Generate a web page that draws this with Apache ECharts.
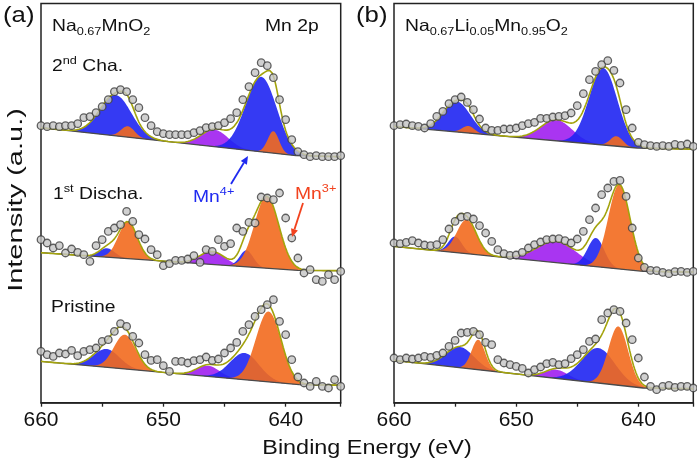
<!DOCTYPE html>
<html><head><meta charset="utf-8">
<script src="https://cdn.jsdelivr.net/npm/echarts@6/dist/echarts.min.js"></script>
<style>html,body{margin:0;padding:0;background:#fff}#c{width:697px;height:466px}</style>
</head><body><div id="c"></div>
<script>
// ---------- data ----------
const xMin = 635.5, xMax = 660;
const xTicksLabelled = [660, 650, 640];
// measured energies of the data points (eV)
const energies = [660,659.5,659,658.5,658,657.5,657,656.5,656,655.5,655,654.5,654,653.5,653,652.5,652,651.5,651,650.5,650,649.5,649,648.5,648,647.5,647,646.5,646,645.5,645,644.5,644,643.5,643,642.5,642,641.5,641,640.5,640,639.5,639,638.5,638,637.5,637,636.5,636,635.5];

// panel (a) Na0.67MnO2 – intensities (offset stacked, a.u.)
const a_cha_pts = [277,276,277,276,277,277,279,285,286,290,296,303,311,313,311,303,295,285,277,271,269,268,268,268,268,270,272,275,276,277,280,284,290,303,316,330,340,337,325,303,283,263,251,248,246,247,246,246,246,247];
const a_dis_pts = [163,159.7,154.7,157,149.7,153.7,150.3,148,141.3,157,163,171.3,174.7,178,191.3,181.3,168,163.7,153,148,137,139,142.3,142.3,143.7,147,140.3,153,151.3,163,156.3,159,174.7,171.3,180.3,179.7,205.7,204.7,203,209.7,184.7,164.7,144.7,129.7,133,123,121.3,128,123,131.3];
const a_pri_pts = [51.3,48,46.3,49.7,48.7,52.3,47,51.3,53,54.7,61.3,63,71.3,79,76.3,66.3,59.7,48,42.3,43,37,31.3,41.3,41.3,39.7,42,43,45.7,42.3,43.7,49.7,54.7,60.3,71.3,78,86.3,93,98,103,81.3,68,43,25.7,19.7,16.3,21.3,16.3,14.7,23,16.3];
// panel (b) Na0.67Li0.05Mn0.95O2
const b_cha_pts = [277,278,278.7,277,276.3,274.7,279,286.3,291.3,299,303,305.7,300.3,293,283.7,274.7,272.3,272.3,273.7,273.7,274.7,277,279,280.3,284.3,284.3,285.7,286.3,287,289.7,297,309,323,331.3,338,342,332.3,319.7,293,274.7,260.3,258,257,256.3,257,256.3,258.3,257.3,258.7,256.3];
const b_dis_pts = [159.7,159,160.3,162,159.7,157.7,157,158,163,173.7,181.3,185.7,186.3,183.7,177,169.7,161.3,153,149,147.3,147.7,150.3,154.7,158,160.7,163,163.7,164,162,159.7,163.7,171.3,183,194.7,208,214.7,221.3,222.3,206.3,174.7,144.7,135.3,132.3,132,130.3,129,131,131.3,130.3,131.3];
const b_pri_pts = [44.7,43,44.7,43.7,44.7,46.3,45.3,47.3,49.7,56.3,62.3,69.7,70.3,71.3,68,60.3,58,43,39.7,38,36.3,34.3,29.7,33,35.7,39,40.3,38,39,44,48,53,61.3,63.7,83,89.7,93,91.3,79.7,63,44.7,25.7,16.3,13,16.3,17.3,15.3,16.3,16.3,14.7];

// backgrounds: [eV, intensity] vertices
const a_cha_bg = [[660,275],[639.15,247],[635.5,246]];
const a_dis_bg = [[660,150],[639,132.3],[635.5,132]];
const a_pri_bg = [[660,41.3],[638.9,18],[635.5,17.5]];
const b_cha_bg = [[660,276.3],[640.1,254.7],[635.5,253.5]];
const b_dis_bg = [[660,156.3],[639.6,131.3],[635.5,130.7]];
const b_pri_bg = [[660,42.3],[639.6,14.7],[635.5,14]];

// fitted components: [centre eV, height above background, FWHM eV]
// order: satellite, Mn4+ 2p3/2, Mn4+ 2p1/2, Mn3+ 2p3/2, Mn3+ 2p1/2
const a_cha_peaks = [[645.8,17,2.6],[642.0,75,3.0],[653.9,41,3.0],[641.0,22,1.1],[652.9,11,1.3]];
const a_dis_peaks = [[646.0,13,2.4],[643.2,16.5,1.3],[654.6,9,1.5],[641.55,72,2.35],[652.9,37,1.8]];
const a_pri_peaks = [[646.35,10.8,2.2],[643.36,26.8,2.8],[654.64,18.3,2.5],[641.4,70.5,2.4],[653.15,34.3,2.1]];
const b_cha_peaks = [[646.7,21,3.0],[642.87,77,2.7],[654.87,30.6,2.6],[641.78,10,1.2],[653.92,7,1.2]];
const b_dis_peaks = [[646.7,21.3,3.8],[643.47,28.7,1.6],[655.0,16,1.3],[641.56,84.3,2.1],[654.05,34,1.9]];
const b_pri_peaks = [[646.7,8.7,2.2],[643.28,35,3.2],[654.6,20.7,2.7],[641.64,58.8,1.9],[653.1,30,1.3]];

// ---------- styles ----------
const FONT = 'Liberation Sans, Arial, sans-serif';
const SX = 1.17; // horizontal stretch of the original lettering
const compColors = ['#a01ff0', '#1f25f2', '#1f25f2', '#f26a1e', '#f26a1e'];
const fitColor = '#a3a30c';
const bgColor = '#4a4a4a';

function gauss(x, p) { const d = (x - p[0]) / p[2]; return p[1] * Math.exp(-4 * Math.LN2 * d * d); }
function bgAt(bg, x) {
  for (let i = 0; i < bg.length - 1; i++) {
    const [x0, y0] = bg[i], [x1, y1] = bg[i + 1];
    if (x <= x0 && x >= x1) return y0 + (y1 - y0) * (x - x0) / (x1 - x0);
  }
  return bg[bg.length - 1][1];
}
const fine = [];
for (let k = 0; k <= 245; k++) fine.push(Math.round((xMin + k * 0.1) * 10) / 10);

const series = [];
function addSpectrum(id, g, pts, bg, peaks) {
  peaks.forEach((p, i) => {
    series.push({type: 'custom', coordinateSystem: 'cartesian2d', xAxisIndex: g, yAxisIndex: g, silent: true, z: 2, clip: true,
      data: [[p[0], bgAt(bg, p[0]) + p[1]]],
      renderItem: function (params, api) {
        const top = fine.map(x => api.coord([x, bgAt(bg, x) + gauss(x, p)]));
        const bot = fine.slice().reverse().map(x => api.coord([x, bgAt(bg, x)]));
        return {type: 'polygon', shape: {points: top.concat(bot)},
          style: {fill: compColors[i], opacity: 0.9, stroke: null}};
      }});
  });
  series.push({type: 'line', xAxisIndex: g, yAxisIndex: g, symbol: 'none', silent: true, z: 3,
    lineStyle: {color: bgColor, width: 1.3}, data: bg});
  series.push({type: 'line', xAxisIndex: g, yAxisIndex: g, symbol: 'none', silent: true, z: 4,
    lineStyle: {color: fitColor, width: 1.6},
    data: fine.map(x => [x, bgAt(bg, x) + peaks.reduce((s, p) => s + gauss(x, p), 0)])});
  series.push({type: 'scatter', xAxisIndex: g, yAxisIndex: g, symbol: 'circle', symbolSize: 7.5, silent: true, z: 5,
    itemStyle: {color: '#c4c4c4', borderColor: '#3c3c3c', borderWidth: 1.3},
    data: energies.map((e, i) => [e, pts[i]])});
}
addSpectrum('ac', 0, a_cha_pts, a_cha_bg, a_cha_peaks);
addSpectrum('ad', 0, a_dis_pts, a_dis_bg, a_dis_peaks);
addSpectrum('ap', 0, a_pri_pts, a_pri_bg, a_pri_peaks);
addSpectrum('bc', 1, b_cha_pts, b_cha_bg, b_cha_peaks);
addSpectrum('bd', 1, b_dis_pts, b_dis_bg, b_dis_peaks);
addSpectrum('bp', 1, b_pri_pts, b_pri_bg, b_pri_peaks);

// ---------- text helpers ----------
const mctx = document.createElement('canvas').getContext('2d');
function tw(t, size) { mctx.font = size + 'px ' + FONT; return mctx.measureText(t).width; }
// segments: [text, kind] kind 0 normal, -1 subscript, 1 superscript
function richText(x, baseline, segs, color, F) {
  const out = [];
  let cx = x;
  segs.forEach(([t, k]) => {
    const size = k === 0 ? F : F * 0.66;
    const base = k === 0 ? baseline : (k < 0 ? baseline + F * 0.24 : baseline - F * 0.42);
    out.push({type: 'text', x: cx, y: base - 0.3465 * size, scaleX: SX, silent: true, z: 10,
      style: {text: t, fontSize: size, fontFamily: FONT, fill: color, align: 'left', verticalAlign: 'middle'}});
    cx += tw(t, size) * SX;
  });
  return out;
}
function arrow(x0, y0, x1, y1, color) {
  const dx = x1 - x0, dy = y1 - y0, L = Math.hypot(dx, dy), ux = dx / L, uy = dy / L;
  const hl = 8, hw = 3.6, bx = x1 - hl * ux, by = y1 - hl * uy;
  return [
    {type: 'line', silent: true, z: 10, shape: {x1: x0, y1: y0, x2: bx, y2: by}, style: {stroke: color, lineWidth: 1.8}},
    {type: 'polygon', silent: true, z: 10, shape: {points: [[x1, y1], [bx - hw * uy, by + hw * ux], [bx + hw * uy, by - hw * ux]]}, style: {fill: color}}
  ];
}
const black = '#111';
const blueTxt = '#1f2af0', redTxt = '#f2421e';
const graphics = [].concat(
  richText(3, 24, [['(a)', 0]], black, 22),
  richText(356, 24, [['(b)', 0]], black, 22),
  richText(52, 32, [['Na', 0], ['0.67', -1], ['MnO', 0], ['2', -1]], black, 16.5),
  richText(265, 32, [['Mn 2p', 0]], black, 16.5),
  richText(52, 72, [['2', 0], ['nd', 1], [' Cha.', 0]], black, 16.5),
  richText(53, 200, [['1', 0], ['st', 1], [' Discha.', 0]], black, 16.5),
  richText(51, 313, [['Pristine', 0]], black, 16.5),
  richText(193, 203, [['Mn', 0], ['4+', 1]], blueTxt, 16.5),
  richText(295, 200, [['Mn', 0], ['3+', 1]], redTxt, 16.5),
  richText(405, 32, [['Na', 0], ['0.67', -1], ['Li', 0], ['0.05', -1], ['Mn', 0], ['0.95', -1], ['O', 0], ['2', -1]], black, 16.5),
  arrow(231, 184, 248, 156, blueTxt),
  arrow(303, 203, 292, 237, redTxt),
  [{type: 'text', x: 367, y: 448, scaleX: SX, silent: true, z: 10,
    style: {text: 'Binding Energy (eV)', fontSize: 20, fontFamily: FONT, fill: black, align: 'center', verticalAlign: 'middle'}},
   {type: 'text', x: 16, y: 200, rotation: Math.PI / 2, scaleX: 1.45, silent: true, z: 10,
    style: {text: 'Intensity (a.u.)', fontSize: 20, fontFamily: FONT, fill: black, align: 'center', verticalAlign: 'middle'}}]
);

function xAxis(g) {
  return {type: 'value', gridIndex: g, min: xMin, max: xMax, inverse: true, splitNumber: 5,
    axisLine: {show: true, onZero: false, lineStyle: {color: '#222', width: 1.5}},
    axisTick: {show: true, inside: false, length: 4, lineStyle: {color: '#222', width: 1.3}},
    axisLabel: {fontSize: 21, fontFamily: FONT, color: black, margin: 7,
      formatter: v => (xTicksLabelled.indexOf(v) >= 0 ? String(v) : '')},
    splitLine: {show: false}};
}
function yAxis(g) { return {type: 'value', gridIndex: g, min: 0, max: 399.2, show: false}; }

const chart = echarts.init(document.getElementById('c'), null, {renderer: 'canvas'});
chart.setOption({
  animation: false,
  backgroundColor: '#fff',
  grid: [
    {left: 41, top: 3.5, width: 299.7, height: 399.2, show: true, borderColor: '#222', borderWidth: 1.5, backgroundColor: 'transparent'},
    {left: 394, top: 3.5, width: 299.3, height: 399.2, show: true, borderColor: '#222', borderWidth: 1.5, backgroundColor: 'transparent'}
  ],
  xAxis: [xAxis(0), xAxis(1)],
  yAxis: [yAxis(0), yAxis(1)],
  series: series,
  graphic: graphics
});
</script></body></html>
